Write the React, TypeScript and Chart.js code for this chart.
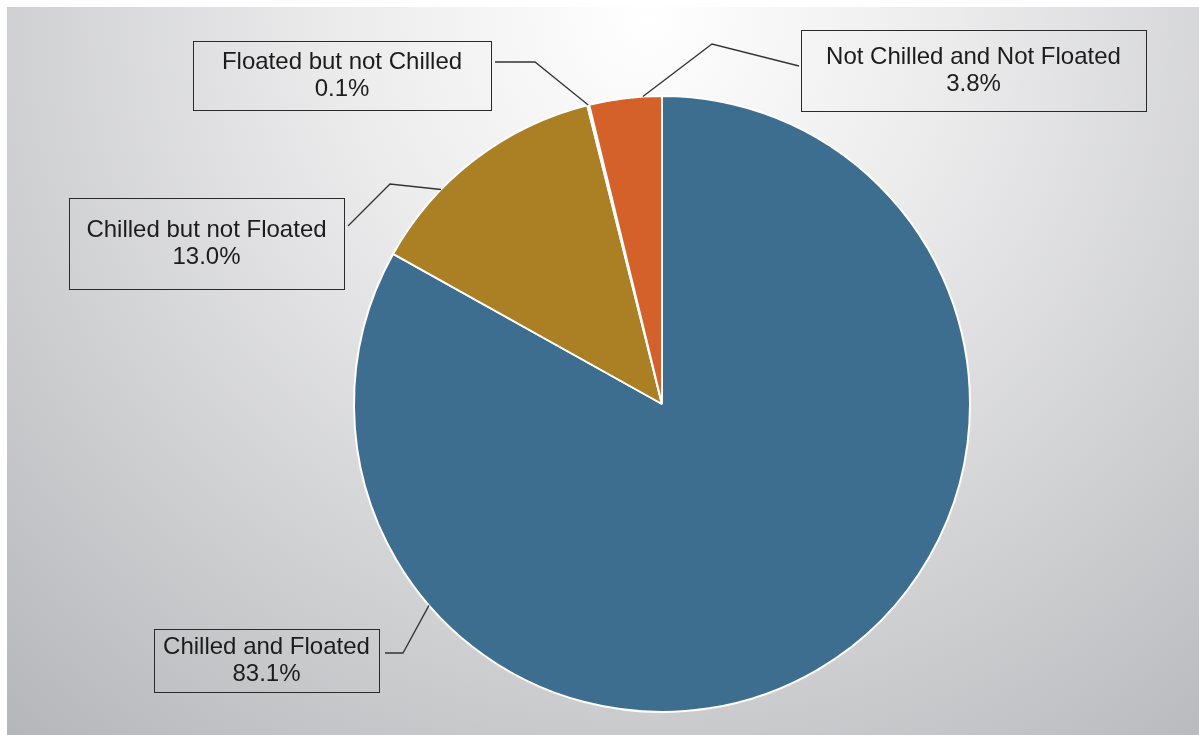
import React, { useEffect, useRef } from "react";
import { Chart, registerables } from "chart.js";

Chart.register(...registerables);

const categories = [
  "Chilled and Floated",
  "Chilled but not Floated",
  "Floated but not Chilled",
  "Not Chilled and Not Floated",
];
const shares = [83.1, 13.0, 0.1, 3.8];
const percentLabels = ["83.1%", "13.0%", "0.1%", "3.8%"];
const sliceColors = ["#3d6e8f", "#ab8024", "#ffffff", "#d4602a"];

// label layout (canvas coordinates): box centre/size, elbow of leader, where leader meets the box, anchor fraction on arc
const labelLayout = [
  { cx: 259.5, cy: 653.5, w: 225, h: 63, elbow: [396, 646], start: [378, 646], frac: 0.766 },
  { cx: 199.5, cy: 236.5, w: 275, h: 91, elbow: [383, 177], start: [341, 219], frac: 0.32 },
  { cx: 335, cy: 68.5, w: 298, h: 69, elbow: [528, 55], start: [488, 55], frac: 0.5 },
  { cx: 966.5, cy: 63.5, w: 345, h: 81, elbow: [705, 37], start: [792, 59], frac: 0.74 },
];

const bgPlugin = {
  id: "bgGrad",
  beforeDraw(chart: any) {
    const { ctx, width, height } = chart;
    ctx.save();
    const g = ctx.createRadialGradient(640, 10, 0, 640, 10, 1000);
    g.addColorStop(0, "#ffffff");
    g.addColorStop(0.3, "#ececed");
    g.addColorStop(1, "#b2b3b7");
    ctx.fillStyle = g;
    ctx.fillRect(0, 0, width, height);
    ctx.restore();
  },
};

const labelPlugin = {
  id: "calloutLabels",
  afterDraw(chart: any) {
    const { ctx } = chart;
    const meta = chart.getDatasetMeta(0);
    ctx.save();
    meta.data.forEach((arc: any, i: number) => {
      const L = labelLayout[i];
      const p = arc.getProps(["x", "y", "startAngle", "endAngle", "outerRadius"], true);
      const a = p.startAngle + L.frac * (p.endAngle - p.startAngle);
      const ax = p.x + Math.cos(a) * p.outerRadius;
      const ay = p.y + Math.sin(a) * p.outerRadius;
      ctx.strokeStyle = "#333333";
      ctx.lineWidth = 1.3;
      ctx.beginPath();
      ctx.moveTo(ax, ay);
      ctx.lineTo(L.elbow[0], L.elbow[1]);
      ctx.lineTo(L.start[0], L.start[1]);
      ctx.stroke();
      ctx.lineWidth = 1;
      ctx.strokeStyle = "#2a2a2a";
      ctx.strokeRect(Math.round(L.cx - L.w / 2) + 0.5, Math.round(L.cy - L.h / 2) + 0.5, L.w, L.h);
      ctx.fillStyle = "#1c1c1c";
      ctx.font = '24px "Liberation Sans", Arial, sans-serif';
      ctx.textAlign = "center";
      ctx.textBaseline = "middle";
      ctx.fillText(categories[i], L.cx, L.cy - 13.5);
      ctx.fillText(percentLabels[i], L.cx, L.cy + 13.5);
    });
    ctx.restore();
  },
};

export default function App() {
  const ref = useRef<HTMLCanvasElement>(null);
  useEffect(() => {
    if (!ref.current) return;
    const chart = new Chart(ref.current, {
      type: "pie",
      data: {
        labels: categories,
        datasets: [
          {
            data: shares,
            backgroundColor: sliceColors,
            borderColor: "#ffffff",
            borderWidth: 2,
          },
        ],
      },
      options: {
        animation: false,
        responsive: false,
        maintainAspectRatio: false,
        layout: { padding: { left: 346, right: 228, top: 88, bottom: 22 } },
        plugins: { legend: { display: false }, tooltip: { enabled: false } },
      },
      plugins: [bgPlugin, labelPlugin],
    });
    return () => chart.destroy();
  }, []);
  return (
    <div style={{ position: "fixed", left: 7, top: 7, width: 1192, height: 728 }}>
      <canvas ref={ref} width={1192} height={728} style={{ display: "block" }} />
    </div>
  );
}
